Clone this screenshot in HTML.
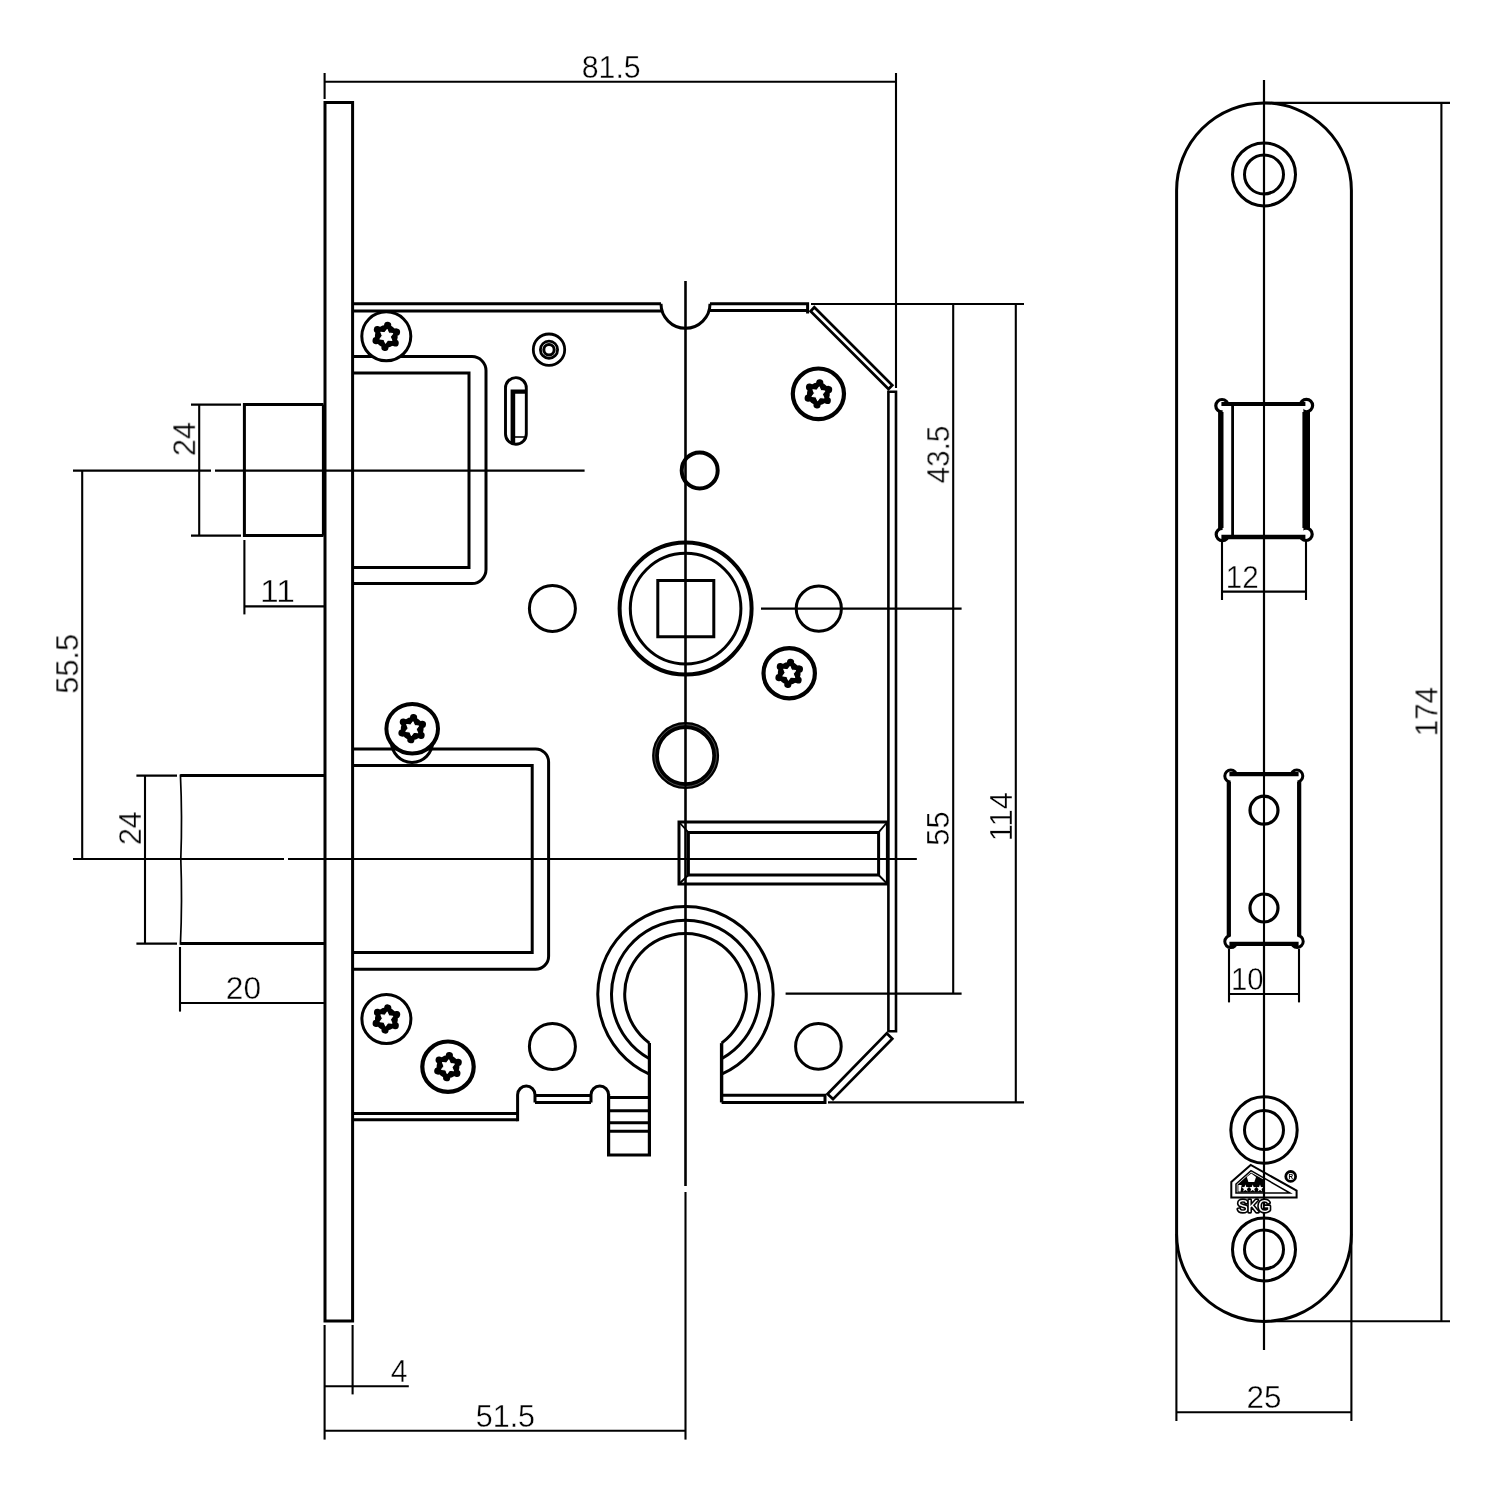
<!DOCTYPE html>
<html lang="en">
<head>
<meta charset="utf-8">
<title>Mortise lock – dimension drawing</title>
<style>
html,body{margin:0;padding:0;background:#fff;}
body{width:1500px;height:1500px;overflow:hidden;}
svg{display:block;}
text{font-family:"Liberation Sans",sans-serif;}
</style>
</head>
<body>
<svg width="1500" height="1500" viewBox="0 0 1500 1500">
<rect width="1500" height="1500" fill="#fff"/>
<g id="dims" fill="none" stroke="#000">
<line x1="325" y1="81.7" x2="896" y2="81.7" stroke-width="2.1" />
<line x1="324.6" y1="73" x2="324.6" y2="99" stroke-width="2.1" />
<line x1="896" y1="73" x2="896" y2="388" stroke-width="2.1" />
<line x1="73" y1="470.6" x2="211" y2="470.6" stroke-width="2.1" />
<line x1="215" y1="470.6" x2="584.6" y2="470.6" stroke-width="2.1" />
<line x1="73" y1="859" x2="284" y2="859" stroke-width="2.1" />
<line x1="288" y1="859" x2="916.6" y2="859" stroke-width="2.1" />
<line x1="82.2" y1="470.4" x2="82.2" y2="859" stroke-width="2.1" />
<line x1="199.2" y1="404.6" x2="199.2" y2="535.6" stroke-width="2.1" />
<line x1="191" y1="404.6" x2="241" y2="404.6" stroke-width="2.1" />
<line x1="191" y1="535.6" x2="241" y2="535.6" stroke-width="2.1" />
<line x1="244.4" y1="606.4" x2="324" y2="606.4" stroke-width="2.1" />
<line x1="244.4" y1="540" x2="244.4" y2="614.4" stroke-width="2.1" />
<line x1="145" y1="775.2" x2="145" y2="943.4" stroke-width="2.1" />
<line x1="136.4" y1="775.6" x2="177" y2="775.6" stroke-width="2.1" />
<line x1="136.4" y1="943.6" x2="177" y2="943.6" stroke-width="2.1" />
<line x1="180" y1="1003" x2="324" y2="1003" stroke-width="2.1" />
<line x1="180" y1="947" x2="180" y2="1011.6" stroke-width="2.1" />
<line x1="324.6" y1="1386.2" x2="408.8" y2="1386.2" stroke-width="2.1" />
<line x1="324.6" y1="1325" x2="324.6" y2="1439.6" stroke-width="2.1" />
<line x1="352.6" y1="1325" x2="352.6" y2="1394.4" stroke-width="2.1" />
<line x1="324.6" y1="1430.8" x2="685.6" y2="1430.8" stroke-width="2.1" />
<line x1="685.5" y1="281" x2="685.5" y2="1186" stroke-width="2.1" />
<line x1="685.5" y1="1192" x2="685.5" y2="1439.6" stroke-width="2.1" />
<line x1="761" y1="608.6" x2="961.6" y2="608.6" stroke-width="2.1" />
<line x1="953.2" y1="304" x2="953.2" y2="993.6" stroke-width="2.1" />
<line x1="811" y1="304" x2="1024" y2="304" stroke-width="2.1" />
<line x1="1015.8" y1="304" x2="1015.8" y2="1102.4" stroke-width="2.1" />
<line x1="828" y1="1102.4" x2="1024" y2="1102.4" stroke-width="2.1" />
<line x1="785.6" y1="993.6" x2="961.6" y2="993.6" stroke-width="2.1" />
<line x1="1264" y1="80" x2="1264" y2="1350" stroke-width="2.1" />
<line x1="1441.4" y1="102.9" x2="1441.4" y2="1321.3" stroke-width="2.1" />
<line x1="1264" y1="102.9" x2="1450" y2="102.9" stroke-width="2.1" />
<line x1="1264" y1="1321.3" x2="1450" y2="1321.3" stroke-width="2.1" />
<line x1="1222" y1="591.6" x2="1306" y2="591.6" stroke-width="2.1" />
<line x1="1222" y1="541" x2="1222" y2="600" stroke-width="2.1" />
<line x1="1306" y1="541" x2="1306" y2="600" stroke-width="2.1" />
<line x1="1229" y1="994" x2="1299" y2="994" stroke-width="2.1" />
<line x1="1229" y1="949" x2="1229" y2="1002.4" stroke-width="2.1" />
<line x1="1299" y1="949" x2="1299" y2="1002.4" stroke-width="2.1" />
<line x1="1176.4" y1="1412.3" x2="1351.4" y2="1412.3" stroke-width="2.1" />
<line x1="1176.4" y1="1234" x2="1176.4" y2="1421" stroke-width="2.1" />
<line x1="1351.4" y1="1234" x2="1351.4" y2="1421" stroke-width="2.1" />
</g>
<g id="side" fill="none" stroke="#000" stroke-linecap="butt" stroke-linejoin="miter">
<path d="M325,1321 V102.6 H352.6 V1321 Z" stroke-width="3.0" fill="none" />
<path d="M323.5,404.6 H244.4 V535.6 H323.5" stroke-width="3.0" fill="none" />
<line x1="323.2" y1="404.6" x2="323.2" y2="535.6" stroke-width="2.6" />
<path d="M324,775.6 H180.4 M180.4,943.6 H324" stroke-width="3.0" fill="none" />
<path d="M180.4,774.4 Q182.4,817 180.8,859 Q182.4,901 180.4,944.8" stroke-width="1.7" fill="none" />
<path d="M352.6,303.8 H661 M352.6,310.9 H662.4" stroke-width="3.0" fill="none" />
<path d="M661,303.8 A24.5,24.5 0 0 0 710,303.8" stroke-width="3.0" fill="none" />
<path d="M710,303.8 H807.6 V313.4 M708.6,310.6 H807.6" stroke-width="3.0" fill="none" />
<path d="M814.3,307.3 L892.3,385.2 L888.5,389 L810.6,311.2 Z" stroke-width="2.7" fill="none" />
<path d="M888.4,391.7 H896 V1031.3 H888.4 Z" stroke-width="2.6" fill="none" />
<path d="M886.7,1033.3 L892.3,1038.7 L833,1099.1 L827.5,1094 Z" stroke-width="2.7" fill="none" />
<path d="M721.6,1095.2 H825 V1102.4 H721.6" stroke-width="3.0" fill="none" />
<path d="M649.4,1074.13 A87.7,87.7 0 1 1 721.6,1074.13" stroke-width="3.0" fill="none" />
<path d="M649.4,1058.80 A74,74 0 1 1 721.6,1058.80" stroke-width="3.0" fill="none" />
<path d="M649.4,1043.12 A60.8,60.8 0 1 1 721.6,1043.12" stroke-width="3.0" fill="none" />
<path d="M721.6,1043.12 V1102.4" stroke-width="3.4" fill="none" />
<path d="M649.4,1043.12 V1155 H608.6 V1094" stroke-width="3.2" fill="none" />
<line x1="608.6" y1="1097.6" x2="649.4" y2="1097.6" stroke-width="3.0" />
<line x1="608.6" y1="1110.8" x2="649.4" y2="1110.8" stroke-width="3.0" />
<line x1="608.6" y1="1122.8" x2="649.4" y2="1122.8" stroke-width="3.0" />
<line x1="608.6" y1="1131.2" x2="649.4" y2="1131.2" stroke-width="3.0" />
<path d="M591,1102.4 V1094.8 A8.8,8.8 0 0 1 608.6,1094.8" stroke-width="3.0" fill="none" />
<path d="M591,1095.6 H535 M535,1102.4 H591" stroke-width="3.0" fill="none" />
<path d="M517.6,1121.2 V1094.8 A8.7,8.7 0 0 1 535,1094.8 V1102.4" stroke-width="3.0" fill="none" />
<path d="M352.6,1113.4 H517.6 M352.6,1119.8 H517.6" stroke-width="3.0" fill="none" />
<path d="M352.6,356.6 H472 A14,14 0 0 1 486,370.6 V569.6 A14,14 0 0 1 472,583.6 H352.6" stroke-width="3.0" fill="none" />
<path d="M352.6,373 H469 V567.4 H352.6" stroke-width="3.0" fill="none" />
<path d="M352.6,748.9 H535.6 A13,13 0 0 1 548.6,761.9 V956.2 A13,13 0 0 1 535.6,969.2 H352.6" stroke-width="3.0" fill="none" />
<path d="M352.6,765.6 H532.2 V952.4 H352.6" stroke-width="3.0" fill="none" />
<circle cx="412" cy="741.8" r="20.6" stroke-width="3.0" fill="none" />
<ellipse cx="386.3" cy="336.3" rx="24.5" ry="24.5" stroke-width="3.0" fill="#fff"/>
<g transform="translate(386.3 336.3) rotate(7)" stroke="none">
<circle r="11.4" fill="#000"/>
<circle cx="0.00" cy="-11.10" r="3.6" fill="#000"/>
<circle cx="9.61" cy="-5.55" r="3.6" fill="#000"/>
<circle cx="9.61" cy="5.55" r="3.6" fill="#000"/>
<circle cx="0.00" cy="11.10" r="3.6" fill="#000"/>
<circle cx="-9.61" cy="5.55" r="3.6" fill="#000"/>
<circle cx="-9.61" cy="-5.55" r="3.6" fill="#000"/>
<polygon points="0.00,-6.90 2.00,-3.46 5.98,-3.45 4.00,0.00 5.98,3.45 2.00,3.46 0.00,6.90 -2.00,3.46 -5.98,3.45 -4.00,0.00 -5.98,-3.45 -2.00,-3.46" fill="#fff" stroke="#fff" stroke-width="1" stroke-linejoin="round"/>
</g>
<ellipse cx="818.4" cy="393.8" rx="25.6" ry="25.3" stroke-width="4.2" fill="#fff"/>
<g transform="translate(818.4 393.8) rotate(7)" stroke="none">
<circle r="11.4" fill="#000"/>
<circle cx="0.00" cy="-11.10" r="3.6" fill="#000"/>
<circle cx="9.61" cy="-5.55" r="3.6" fill="#000"/>
<circle cx="9.61" cy="5.55" r="3.6" fill="#000"/>
<circle cx="0.00" cy="11.10" r="3.6" fill="#000"/>
<circle cx="-9.61" cy="5.55" r="3.6" fill="#000"/>
<circle cx="-9.61" cy="-5.55" r="3.6" fill="#000"/>
<polygon points="0.00,-6.90 2.00,-3.46 5.98,-3.45 4.00,0.00 5.98,3.45 2.00,3.46 0.00,6.90 -2.00,3.46 -5.98,3.45 -4.00,0.00 -5.98,-3.45 -2.00,-3.46" fill="#fff" stroke="#fff" stroke-width="1" stroke-linejoin="round"/>
</g>
<ellipse cx="789.2" cy="673.3" rx="25.7" ry="25.1" stroke-width="4.2" fill="#fff"/>
<g transform="translate(789.2 673.3) rotate(7)" stroke="none">
<circle r="11.4" fill="#000"/>
<circle cx="0.00" cy="-11.10" r="3.6" fill="#000"/>
<circle cx="9.61" cy="-5.55" r="3.6" fill="#000"/>
<circle cx="9.61" cy="5.55" r="3.6" fill="#000"/>
<circle cx="0.00" cy="11.10" r="3.6" fill="#000"/>
<circle cx="-9.61" cy="5.55" r="3.6" fill="#000"/>
<circle cx="-9.61" cy="-5.55" r="3.6" fill="#000"/>
<polygon points="0.00,-6.90 2.00,-3.46 5.98,-3.45 4.00,0.00 5.98,3.45 2.00,3.46 0.00,6.90 -2.00,3.46 -5.98,3.45 -4.00,0.00 -5.98,-3.45 -2.00,-3.46" fill="#fff" stroke="#fff" stroke-width="1" stroke-linejoin="round"/>
</g>
<ellipse cx="412.2" cy="728.7" rx="25.8" ry="24.8" stroke-width="4.0" fill="#fff"/>
<g transform="translate(412.2 728.7) rotate(7)" stroke="none">
<circle r="11.4" fill="#000"/>
<circle cx="0.00" cy="-11.10" r="3.6" fill="#000"/>
<circle cx="9.61" cy="-5.55" r="3.6" fill="#000"/>
<circle cx="9.61" cy="5.55" r="3.6" fill="#000"/>
<circle cx="0.00" cy="11.10" r="3.6" fill="#000"/>
<circle cx="-9.61" cy="5.55" r="3.6" fill="#000"/>
<circle cx="-9.61" cy="-5.55" r="3.6" fill="#000"/>
<polygon points="0.00,-6.90 2.00,-3.46 5.98,-3.45 4.00,0.00 5.98,3.45 2.00,3.46 0.00,6.90 -2.00,3.46 -5.98,3.45 -4.00,0.00 -5.98,-3.45 -2.00,-3.46" fill="#fff" stroke="#fff" stroke-width="1" stroke-linejoin="round"/>
</g>
<ellipse cx="386.4" cy="1019" rx="24.5" ry="24.5" stroke-width="3.0" fill="#fff"/>
<g transform="translate(386.4 1019) rotate(7)" stroke="none">
<circle r="11.4" fill="#000"/>
<circle cx="0.00" cy="-11.10" r="3.6" fill="#000"/>
<circle cx="9.61" cy="-5.55" r="3.6" fill="#000"/>
<circle cx="9.61" cy="5.55" r="3.6" fill="#000"/>
<circle cx="0.00" cy="11.10" r="3.6" fill="#000"/>
<circle cx="-9.61" cy="5.55" r="3.6" fill="#000"/>
<circle cx="-9.61" cy="-5.55" r="3.6" fill="#000"/>
<polygon points="0.00,-6.90 2.00,-3.46 5.98,-3.45 4.00,0.00 5.98,3.45 2.00,3.46 0.00,6.90 -2.00,3.46 -5.98,3.45 -4.00,0.00 -5.98,-3.45 -2.00,-3.46" fill="#fff" stroke="#fff" stroke-width="1" stroke-linejoin="round"/>
</g>
<ellipse cx="448" cy="1066.7" rx="25.7" ry="25.2" stroke-width="4.2" fill="#fff"/>
<g transform="translate(448 1066.7) rotate(7)" stroke="none">
<circle r="11.4" fill="#000"/>
<circle cx="0.00" cy="-11.10" r="3.6" fill="#000"/>
<circle cx="9.61" cy="-5.55" r="3.6" fill="#000"/>
<circle cx="9.61" cy="5.55" r="3.6" fill="#000"/>
<circle cx="0.00" cy="11.10" r="3.6" fill="#000"/>
<circle cx="-9.61" cy="5.55" r="3.6" fill="#000"/>
<circle cx="-9.61" cy="-5.55" r="3.6" fill="#000"/>
<polygon points="0.00,-6.90 2.00,-3.46 5.98,-3.45 4.00,0.00 5.98,3.45 2.00,3.46 0.00,6.90 -2.00,3.46 -5.98,3.45 -4.00,0.00 -5.98,-3.45 -2.00,-3.46" fill="#fff" stroke="#fff" stroke-width="1" stroke-linejoin="round"/>
</g>
<circle cx="549" cy="349.7" r="15.7" stroke-width="2.8" fill="none" />
<circle cx="549" cy="349.7" r="8.6" stroke-width="2.8" fill="none" />
<circle cx="549" cy="349.7" r="5.2" stroke-width="3.0" fill="none" />
<path d="M505.5,388 A10.4,10.4 0 0 1 526.3,388 V433.9 A10.4,10.4 0 0 1 505.5,433.9 Z" stroke-width="2.9" fill="none" />
<path d="M510.6,389.4 H526 V393.8 H515.2 V444 H510.6 Z" stroke-width="0" fill="#000" stroke="none"/>
<path d="M515,437 H526" stroke-width="1.6" fill="none" />
<circle cx="699.7" cy="470.4" r="18" stroke-width="4.0" fill="none" />
<circle cx="552.4" cy="608.4" r="23" stroke-width="3.0" fill="none" />
<circle cx="818.8" cy="608.6" r="22.6" stroke-width="3.0" fill="none" />
<circle cx="552.4" cy="1046.4" r="23" stroke-width="3.0" fill="none" />
<circle cx="818.4" cy="1046.4" r="22.8" stroke-width="3.0" fill="none" />
<circle cx="685.6" cy="608.6" r="66" stroke-width="4.0" fill="none" />
<circle cx="685.6" cy="608.6" r="55.3" stroke-width="3.0" fill="none" />
<path d="M657.8,580.6 H713.8 V636.8 H657.8 Z" stroke-width="3.0" fill="none" />
<circle cx="685.6" cy="755.6" r="30.1" stroke-width="6.8" fill="none" />
<circle cx="685.6" cy="755.6" r="30.9" stroke-width="0.5" fill="none" stroke="#999"/>
<path d="M679,822 H887.4 V884 H679 Z" stroke-width="3.0" fill="none" />
<path d="M688.4,832.4 H878.6 V875 H688.4 Z" stroke-width="3.0" fill="none" />
<path d="M679,822 L688.4,832.4 M887.4,822 L878.6,832.4 M679,884 L688.4,875 M887.4,884 L878.6,875" stroke-width="1.8" fill="none" />
</g>
<g id="front" fill="none" stroke="#000">
<rect x="1176.6" y="102.9" width="174.8" height="1218.5" rx="87.4" ry="87.4" stroke-width="3.0"/>
<circle cx="1264" cy="174.4" r="31.5" stroke-width="3.0" fill="none" />
<circle cx="1264" cy="174.4" r="19.5" stroke-width="3.0" fill="none" />
<circle cx="1264" cy="1130" r="33.2" stroke-width="3.0" fill="none" />
<circle cx="1264" cy="1130" r="19.5" stroke-width="3.0" fill="none" />
<circle cx="1264" cy="1249.4" r="31.5" stroke-width="3.0" fill="none" />
<circle cx="1264" cy="1249.4" r="19.5" stroke-width="3.0" fill="none" />
<line x1="1220.8" y1="404" x2="1220.8" y2="537" stroke-width="5.4" />
<line x1="1306.2" y1="404" x2="1306.2" y2="537" stroke-width="7.6" />
<circle cx="1222" cy="405.7" r="6.2" stroke-width="3.2" fill="#fff" />
<circle cx="1306.4" cy="405.6" r="6.2" stroke-width="3.2" fill="#fff" />
<circle cx="1222.4" cy="534.5" r="6.2" stroke-width="3.2" fill="#fff" />
<circle cx="1306" cy="534.3" r="6.2" stroke-width="3.2" fill="#fff" />
<path d="M1222.6,404 H1303.4 V537 H1222.6 Z" stroke-width="0" fill="#fff" stroke="none"/>
<line x1="1221.4" y1="404" x2="1305.4" y2="404" stroke-width="4.0" />
<line x1="1221.4" y1="537" x2="1305.4" y2="537" stroke-width="4.4" />
<line x1="1221.6" y1="412" x2="1221.6" y2="528" stroke-width="3.8" />
<line x1="1304.6" y1="412" x2="1304.6" y2="528" stroke-width="4.4" />
<line x1="1232.6" y1="404" x2="1232.6" y2="537" stroke-width="2.8" />
<line x1="1228.8" y1="774" x2="1228.8" y2="944" stroke-width="4.0" />
<line x1="1299.2" y1="774" x2="1299.2" y2="944" stroke-width="4.0" />
<circle cx="1230.8" cy="776" r="6.0" stroke-width="3.0" fill="#fff" />
<circle cx="1296.8" cy="776" r="6.0" stroke-width="3.0" fill="#fff" />
<circle cx="1230.8" cy="941.6" r="6.0" stroke-width="3.0" fill="#fff" />
<circle cx="1297.2" cy="941.4" r="6.0" stroke-width="3.0" fill="#fff" />
<path d="M1230.6,774 H1297.4 V944 H1230.6 Z" stroke-width="0" fill="#fff" stroke="none"/>
<line x1="1229.4" y1="774.1" x2="1298.6" y2="774.1" stroke-width="4.4" />
<line x1="1229.4" y1="943.8" x2="1298.6" y2="943.8" stroke-width="4.2" />
<line x1="1228.9" y1="782" x2="1228.9" y2="936" stroke-width="4.0" />
<line x1="1299.1" y1="782" x2="1299.1" y2="936" stroke-width="4.0" />
<circle cx="1264" cy="810.2" r="14" stroke-width="3.2" fill="none" />
<circle cx="1264" cy="908" r="14" stroke-width="3.2" fill="none" />
<path d="M1231.3,1197.6 V1182 L1250.7,1165 L1296.6,1190.6 V1197.6 Z" stroke-width="2.0" fill="none" stroke-linejoin="miter"/>
<path d="M1236,1193 V1184 L1251,1170.6 L1290,1193 Z" stroke-width="1.5" fill="none" />
<path d="M1237.5,1192.5 V1184.5 L1251,1172.5 L1263.5,1179.6 V1192.5 Z" stroke-width="0" fill="#000" stroke="none"/>
<polygon points="1245.40,1184.60 1246.34,1187.11 1249.01,1187.23 1246.92,1188.89 1247.63,1191.47 1245.40,1190.00 1243.17,1191.47 1243.88,1188.89 1241.79,1187.23 1244.46,1187.11" fill="#fff" stroke="none"/>
<polygon points="1252.70,1184.60 1253.64,1187.11 1256.31,1187.23 1254.22,1188.89 1254.93,1191.47 1252.70,1190.00 1250.47,1191.47 1251.18,1188.89 1249.09,1187.23 1251.76,1187.11" fill="#fff" stroke="none"/>
<polygon points="1260.00,1184.60 1260.94,1187.11 1263.61,1187.23 1261.52,1188.89 1262.23,1191.47 1260.00,1190.00 1257.77,1191.47 1258.48,1188.89 1256.39,1187.23 1259.06,1187.11" fill="#fff" stroke="none"/>
<polygon points="1251.3,1173.4 1256,1177 1254.4,1182 1248.4,1182 1246.8,1177" fill="#fff" stroke="none"/>
<polygon points="1238.4,1185 1241.6,1185 1240.6,1191.6 1238.4,1191.6" fill="#fff" stroke="none"/>
<circle cx="1290.7" cy="1176.4" r="4.9" stroke-width="2.8" fill="none" />
</g>
<g fill="none" stroke="#000">
<line x1="685.5" y1="281" x2="685.5" y2="1186" stroke-width="2.1" />
<line x1="1264" y1="80" x2="1264" y2="1350" stroke-width="2.1" />
<line x1="73" y1="859" x2="284" y2="859" stroke-width="2.1" />
<line x1="288" y1="859" x2="916.6" y2="859" stroke-width="2.1" />
</g>
<g id="txt" fill="#000" stroke="#fff" stroke-width="0.4" font-family="'Liberation Sans', sans-serif" style="opacity:0.999">
<text transform="translate(611.2 77.7) scale(0.9464 1)" font-size="32" text-anchor="middle" >81.5</text>
<text transform="translate(195.2 439.1) rotate(-90) scale(0.9614 1)" font-size="32" text-anchor="middle" >24</text>
<text transform="translate(277.5 602.4) scale(1.05 1)" font-size="32" text-anchor="middle" >11</text>
<text transform="translate(78.2 663.8) rotate(-90) scale(0.9593 1)" font-size="32" text-anchor="middle" >55.5</text>
<text transform="translate(141.0 828.3) rotate(-90) scale(0.9479 1)" font-size="32" text-anchor="middle" >24</text>
<text transform="translate(243.5 999.0) scale(0.9922 1)" font-size="32" text-anchor="middle" >20</text>
<text transform="translate(399.2 1382.2) scale(0.9417 1)" font-size="32" text-anchor="middle" >4</text>
<text transform="translate(505.4 1426.8) scale(0.9524 1)" font-size="32" text-anchor="middle" >51.5</text>
<text transform="translate(949.2 454.5) rotate(-90) scale(0.9271 1)" font-size="32" text-anchor="middle" >43.5</text>
<text transform="translate(949.2 828.6) rotate(-90) scale(0.9637 1)" font-size="32" text-anchor="middle" >55</text>
<text transform="translate(1011.8 816.7) rotate(-90) scale(0.9674 1)" font-size="32" text-anchor="middle" >114</text>
<text transform="translate(1242.2 587.6) scale(0.9248 1)" font-size="32" text-anchor="middle" >12</text>
<text transform="translate(1247.3 990.0) scale(0.9181 1)" font-size="32" text-anchor="middle" >10</text>
<text transform="translate(1437.4 711.7) rotate(-90) scale(0.9262 1)" font-size="32" text-anchor="middle" >174</text>
<text transform="translate(1264.0 1408.3) scale(0.983 1)" font-size="32" text-anchor="middle" >25</text>
<text x="1254" y="1212.2" font-size="16.6" text-anchor="middle" textLength="33.6" lengthAdjust="spacing" fill="#fff" stroke="#000" stroke-width="3.3" stroke-linejoin="round" paint-order="stroke" style="paint-order:stroke fill">SKG</text>
<text x="1290.7" y="1178.6" font-size="6.4" font-weight="bold" text-anchor="middle" fill="#000" stroke="none">R</text>
</g>
</svg>
</body>
</html>
